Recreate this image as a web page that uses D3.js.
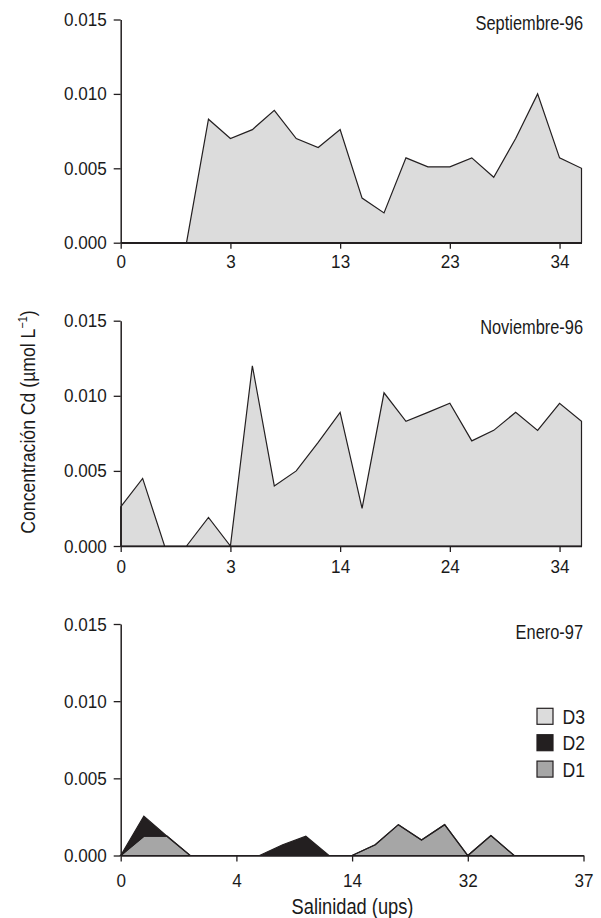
<!DOCTYPE html>
<html><head><meta charset="utf-8">
<script src="https://cdn.jsdelivr.net/npm/d3@7/dist/d3.min.js"></script>
<style>
html,body{margin:0;padding:0;background:#fff;}
svg text{font-family:"Liberation Sans Narrow","Arial Narrow","Liberation Sans",Arial,sans-serif;fill:#1a1a1a;}
</style></head>
<body><svg id="c" width="601" height="918"></svg>
<script>
// ---- data ----
const seriesNames = ["D3","D2","D1"];
const sep96Labels = ["0","3","13","23","34"];
const nov96Labels = ["0","3","14","24","34"];
const ene97Labels = ["0","4","14","32","37"];
const yTicks = [0, 0.005, 0.010, 0.015];
const sep96D3 = [0,0,0,0,0.0083,0.0070,0.0076,0.0089,0.0070,0.0064,0.0076,0.0030,0.0020,0.0057,0.0051,0.0051,0.0057,0.0044,0.0070,0.0100,0.0057,0.0050];
const nov96D3 = [0.0026,0.0045,0,0,0.0019,0,0.0120,0.0040,0.0050,0.0069,0.0089,0.0025,0.0102,0.0083,0.0089,0.0095,0.0070,0.0077,0.0089,0.0077,0.0095,0.0083];
const ene97D1 = [0,0.00125,0.00125,0,0,0,0,0,0,0,0,0.0007,0.0020,0.0010,0.0020,0,0.0013,0,0,0,0];
const ene97D2 = [0,0.0013,0,0,0,0,0,0.0007,0.00125,0,0,0,0,0,0,0,0,0,0,0,0];
const ene97D3 = [0,0,0,0,0,0,0,0,0,0,0,0,0,0,0,0,0,0,0,0,0];

const colors = {D3:"#dcdcdc", D2:"#231f20", D1:"#a6a6a6"};
const ink = "#231f20";

const svg = d3.select("#c");

// horizontally condense a text (emulates a narrow typeface) via transform
function squeeze(sel, k){
  sel.each(function(){
    const x = +this.getAttribute("x") || 0;
    const y = +this.getAttribute("y") || 0;
    this.setAttribute("x", 0);
    this.setAttribute("y", 0);
    this.setAttribute("transform", `translate(${x},${y}) scale(${k},1)`);
  });
}

const panels = [
  {title:"Septiembre-96", labels:sep96Labels, layers:{D1:sep96D3.map(()=>0),D2:sep96D3.map(()=>0),D3:sep96D3}, top:19.5, bottom:242.7, right:581.5, titleY:30, pad:6},
  {title:"Noviembre-96", labels:nov96Labels, layers:{D1:nov96D3.map(()=>0),D2:nov96D3.map(()=>0),D3:nov96D3}, top:320.7, bottom:546, right:581.5, titleY:334, pad:7},
  {title:"Enero-97", labels:ene97Labels, layers:{D1:ene97D1,D2:ene97D2,D3:ene97D3}, top:624, bottom:855.5, right:583.5, titleY:639, pad:12}
];

const left = 120.7;

panels.forEach((p,pi)=>{
  const n = p.layers.D3.length;
  const x = d3.scaleLinear().domain([0,n-1]).range([left,p.right]);
  const y = d3.scaleLinear().domain([0,0.015]).range([p.bottom,p.top]);
  const rows = d3.range(n).map(i=>({i, D1:p.layers.D1[i], D2:p.layers.D2[i], D3:p.layers.D3[i]}));
  const stack = d3.stack().keys(["D1","D2","D3"])(rows);
  const area = d3.area().x(d=>x(d.data.i)).y0(d=>y(d[0])).y1(d=>y(d[1]));
  const g = svg.append("g");
  stack.forEach(layer=>{
    const nonzero = layer.some(d=>d[1]-d[0]>0);
    if(!nonzero) return;
    g.append("path").datum(layer).attr("d",area)
      .attr("fill",colors[layer.key]).attr("stroke",ink).attr("stroke-width",1.2)
      .attr("stroke-linejoin","miter");
  });

  const ya = svg.append("g").attr("transform",`translate(${left},0)`)
    .call(d3.axisLeft(y).tickValues(yTicks).tickFormat(d3.format(".3f")).tickSize(7).tickPadding(7).tickSizeOuter(0));
  const xa = svg.append("g").attr("transform",`translate(0,${p.bottom})`)
    .call(d3.axisBottom(x).tickValues([0,5,10,15,20]).tickFormat((d,i)=>p.labels[i]).tickSize(6).tickPadding(p.pad).tickSizeOuter(0));
  [ya,xa].forEach(a=>{
    a.selectAll("path.domain").attr("stroke",ink).attr("stroke-width",1.5);
    a.selectAll(".tick line").attr("stroke",ink).attr("stroke-width",1.3);
    a.selectAll("text").attr("font-size",19).attr("fill","#1a1a1a")
      .style("font-family",'"Liberation Sans Narrow","Arial Narrow","Liberation Sans",Arial,sans-serif');
    squeeze(a.selectAll("text"), 0.9);
  });

  const t = svg.append("text").attr("x",583).attr("y",p.titleY).attr("text-anchor","end")
    .attr("font-size",20).text(p.title);
  squeeze(t, 0.82);
});

// legend
const lg = svg.append("g");
seriesNames.forEach((s,i)=>{
  const yy = 708.3 + i*26.4;
  lg.append("rect").attr("x",537).attr("y",yy).attr("width",16).attr("height",16)
    .attr("fill",colors[s]).attr("stroke",ink).attr("stroke-width",1.2);
  const t = lg.append("text").attr("x",562.5).attr("y",yy+15.5).attr("font-size",20.5).text(s);
  squeeze(t, 0.86);
});

// axis titles
const xt = svg.append("text").attr("x",352.5).attr("y",914).attr("text-anchor","middle")
  .attr("font-size",21.5).text("Salinidad (ups)");
squeeze(xt, 0.85);
const yt = svg.append("text").attr("transform","translate(35,422) rotate(-90) scale(0.84,1)")
  .attr("text-anchor","middle").attr("font-size",21);
yt.append("tspan").text("Concentración Cd (µmol L");
yt.append("tspan").attr("font-size",13).attr("dy",-8).text("−1");
yt.append("tspan").attr("dy",8).text(")");
</script></body></html>
